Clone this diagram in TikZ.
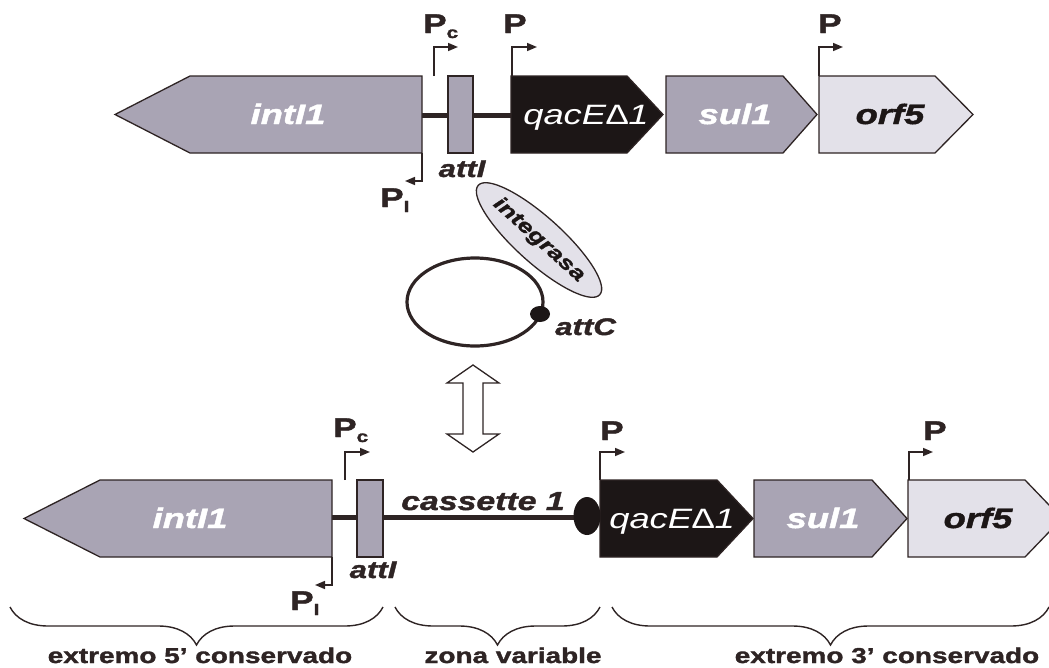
\documentclass[tikz,border=0pt]{standalone}
\usepackage{fontspec}
\setmainfont{Liberation Sans}
\newfontfamily\etiq[FakeStretch=1.3]{Liberation Sans}
\newfontfamily\gras[FakeStretch=1.3,FakeBold=1.6]{Liberation Sans}
\usetikzlibrary{arrows.meta,shapes.geometric,decorations.pathreplacing}
\definecolor{gris}{HTML}{A9A4B4}
\definecolor{clair}{HTML}{E3E1E9}
\definecolor{noir}{HTML}{1C1616}
\definecolor{trait}{HTML}{2E2424}
\newcommand{\sousc}[1]{\raisebox{-5pt}{\fontsize{16}{16}\selectfont #1}}

\begin{document}
\begin{tikzpicture}[x=1pt,y=-1pt,
  gene/.style={draw=trait,line width=1.3pt,line join=miter},
  genetxt/.style={font=\gras\bfseries\itshape\fontsize{28}{28}\selectfont,text=white,anchor=base,inner sep=0},
  prom/.style={draw=trait,line width=1.6pt,-{Triangle[length=10pt,width=8pt]}},
  plab/.style={font=\gras\bfseries\fontsize{27}{27}\selectfont,text=trait,anchor=base west,inner sep=0},
  site/.style={font=\gras\bfseries\itshape\fontsize{24}{24}\selectfont,text=trait,anchor=base,inner sep=0},
  adn/.style={draw=trait,line width=5pt},
  accolade/.style={decorate,decoration={brace,mirror,amplitude=38pt},draw=trait,line width=1.4pt},
  bas/.style={font=\gras\bfseries\fontsize{21.5}{21.5}\selectfont,text=trait,anchor=base,inner sep=0}]
  \useasboundingbox (0,0) rectangle (1049,667);

  % Integron du haut
  \coordinate (hIa) at (422,115);
  \coordinate (hQa) at (511,115);
  \draw[adn] (hIa) -- (hQa);
  \draw[gene,fill=gris] (422,76) -- (190,76) -- (115,114.5) -- (190,153) -- (422,153) -- cycle;
  \draw[gene,fill=gris] (448,76) rectangle (473,153);
  \draw[gene,fill=noir] (511,76) -- (627,76) -- (663,114.5) -- (627,153) -- (511,153) -- cycle;
  \draw[gene,fill=gris] (666,76) -- (783,76) -- (817,114.5) -- (783,153) -- (666,153) -- cycle;
  \draw[gene,fill=clair] (819,76) -- (935,76) -- (973,114.5) -- (935,153) -- (819,153) -- cycle;
  \node[genetxt] (hInt) at (288,124) {intI1};
  \node[genetxt,font=\etiq\itshape\fontsize{28}{28}\selectfont] (hQac) at (586,124) {qacE∆1};
  \node[genetxt] (hSul) at (735,124) {sul1};
  \node[genetxt,text=noir] (hOrf) at (890,124) {orf5};
  \node[site] (hAtt) at (462,177) {attI};

  % Promoteurs du haut
  \draw[prom] (434,76) |- (458,47);
  \draw[prom] (512,76) |- (537,47);
  \draw[prom] (819,76) |- (843,47);
  \draw[prom] (422,153) |- (405,181);
  \node[plab] (hPc) at (423,33) {P\sousc{c}};
  \node[plab] (hP1) at (503,33) {P};
  \node[plab] (hP2) at (818,33) {P};
  \node[plab] (hPi) at (380,207) {P\sousc{I}};

  % Cassette circulaire et integrasa
  \draw[trait,line width=3.2pt] (475,302) ellipse [x radius=68,y radius=44];
  \node[ellipse,fill=noir,minimum width=20,minimum height=16,inner sep=0] (cAtt) at (540,314) {};
  \node[site,anchor=base west] (cAttl) at (555,335) {attC};
  \node[ellipse,draw=trait,fill=clair,line width=1.3pt,rotate=-42,minimum width=144,minimum height=46,inner sep=0,
    font=\gras\bfseries\itshape\fontsize{20}{20}\selectfont,text=noir] (integ) at (539,240) {integrasa};

  % Double fleche
  \draw[trait,line width=1.3pt,fill=white] (473,365) -- (499,383) -- (483,383) -- (483,434) -- (499,434) -- (473,452)
    -- (447,434) -- (463,434) -- (463,383) -- (447,383) -- cycle;

  % Integron du bas
  \coordinate (bIa) at (332,517);
  \coordinate (bQa) at (600,517);
  \draw[adn] (bIa) -- (bQa);
  \draw[gene,fill=gris] (332,480) -- (100,480) -- (24,518.5) -- (100,557) -- (332,557) -- cycle;
  \draw[gene,fill=gris] (357,480) rectangle (383,557);
  \draw[gene,fill=noir] (600,480) -- (717,480) -- (753,518.5) -- (717,557) -- (600,557) -- cycle;
  \draw[gene,fill=gris] (754,480) -- (872,480) -- (907,518.5) -- (872,557) -- (754,557) -- cycle;
  \draw[gene,fill=clair] (908,480) -- (1025,480) -- (1062,518.5) -- (1025,557) -- (908,557) -- cycle;
  \node[ellipse,fill=noir,minimum width=27,minimum height=38,inner sep=0] (bAtt) at (587,516) {};
  \node[genetxt] (bInt) at (190,528) {intI1};
  \node[genetxt,font=\etiq\itshape\fontsize{28}{28}\selectfont] (bQac) at (672,528) {qacE∆1};
  \node[genetxt] (bSul) at (823,528) {sul1};
  \node[genetxt,text=noir] (bOrf) at (978,528) {orf5};
  \node[site] (bAttl) at (373,578) {attI};
  \node[site,font=\gras\bfseries\itshape\fontsize{26}{26}\selectfont] (cas) at (483,510) {cassette 1};

  % Promoteurs du bas
  \draw[prom] (345,480) |- (370,452);
  \draw[prom] (600,480) |- (625,452);
  \draw[prom] (909,480) |- (933,452);
  \draw[prom] (332,557) |- (315,585);
  \node[plab] (bPc) at (333,437) {P\sousc{c}};
  \node[plab] (bP1) at (600,440) {P};
  \node[plab] (bP2) at (923,440) {P};
  \node[plab] (bPi) at (290,610) {P\sousc{I}};

  % Accolades
  \coordinate (a1) at (10,607);
  \coordinate (a2) at (383,607);
  \coordinate (a3) at (395,607);
  \coordinate (a4) at (600,607);
  \coordinate (a5) at (612,607);
  \coordinate (a6) at (1049,607);
  \draw[accolade] (a1) -- (a2);
  \draw[accolade] (a3) -- (a4);
  \draw[accolade] (a5) -- (a6);
  \node[bas] (z5) at (200,663) {extremo 5’ conservado};
  \node[bas] (zv) at (513,663) {zona variable};
  \node[bas] (z3) at (887,663) {extremo 3’ conservado};
\end{tikzpicture}
\end{document}
